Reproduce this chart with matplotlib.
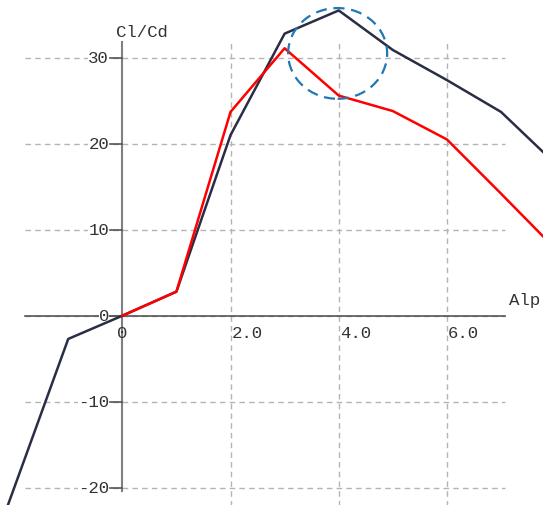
import numpy as np
import matplotlib.pyplot as plt
from matplotlib.patches import Ellipse

# lift/drag ratio vs angle of attack
alpha_1 = [-2.5, -1, 0, 1, 2, 3, 4, 5, 6, 7, 8]
clcd_1 = [-28.7, -2.7, 0, 2.8, 21.0, 32.8, 35.5, 30.9, 27.4, 23.7, 17.7]

alpha_2 = [0, 1, 2, 3, 4, 5, 6, 7, 8]
clcd_2 = [0, 2.8, 23.7, 31.1, 25.6, 23.8, 20.5, 14.2, 7.8]

x_ticks = [0, 2, 4, 6]
x_labels = ['0', '2.0', '4.0', '6.0']
y_ticks = [-20, -10, 0, 10, 20, 30]

font = 'Liberation Mono'
txt_col = '#333333'

fig = plt.figure(figsize=(5.43, 5.06), dpi=100)
ax = fig.add_axes([0, 0, 1, 1])
ax.set_xlim(-2.261, 7.776)
ax.set_ylim(-22.01, 36.83)
ax.axis('off')

# grid
for y in y_ticks:
    ax.plot([-1.80, 7.07], [y, y], color='#b4b4b4', lw=1, ls=(0, (4, 3)), zorder=1)
for x in x_ticks[1:]:
    ax.plot([x, x], [-22.5, 31.8], color='#b4b4b4', lw=1, ls=(0, (4, 3)), zorder=1)

# axes through origin
ax.plot([-1.80, 7.07], [0, 0], color='#555555', lw=1.2, zorder=2)
ax.plot([0, 0], [-20.4, 31.8], color='#808080', lw=1.5, zorder=2)
for y in y_ticks:
    ax.plot([-0.22, 0], [y, y], color='#555555', lw=1.2, zorder=2)
    ax.text(-0.245, y, str(y), ha='right', va='center', fontsize=12.5,
            family=font, color=txt_col, zorder=3,
            bbox=dict(fc='white', ec='none', pad=0))

for x, lab in zip(x_ticks, x_labels):
    ax.text(x + (0 if x == 0 else 0.02), -1.9, lab, ha='center' if x == 0 else 'left',
            va='center', fontsize=12.5, family=font, color=txt_col, zorder=3)

ax.text(-0.115, 33.1, 'Cl/Cd', ha='left', va='center', fontsize=12.5,
        family=font, color=txt_col)
ax.text(7.15, 1.94, 'Alp', ha='left', va='center', fontsize=12.5,
        family=font, color=txt_col)

ax.plot(alpha_1, clcd_1, color='#2a2e45', lw=1.8, zorder=4)
ax.plot(alpha_2, clcd_2, color='#ff0000', lw=1.8, zorder=5)

# highlight the stall region
ax.add_patch(Ellipse((3.98, 30.5), 1.83, 10.55, fill=False, ec='#1f77b4',
                     lw=1.6, ls=(0, (5, 3)), zorder=6))

fig.savefig('out.png', dpi=100)
